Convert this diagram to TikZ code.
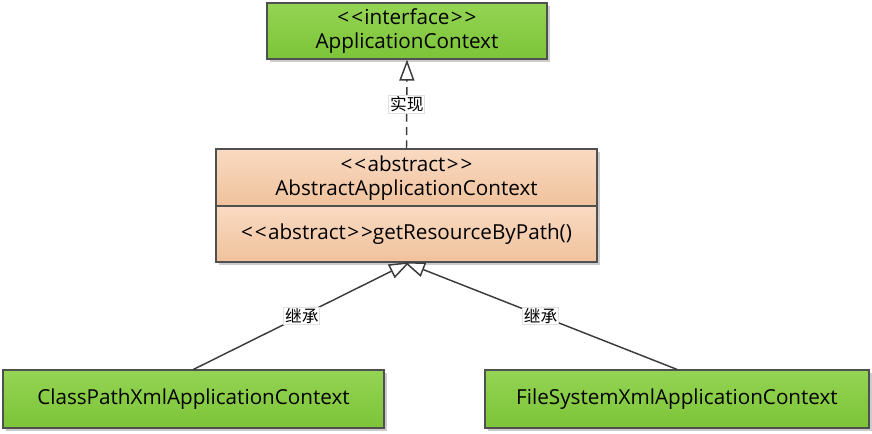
\documentclass[tikz,border=0pt]{standalone}
\usepackage{fontspec}
\setmainfont{Open Sans}
\newfontfamily\cjk{Noto Sans CJK SC}
\usetikzlibrary{arrows.meta,shadows}
\definecolor{gtop}{RGB}{148,212,84}
\definecolor{gbot}{RGB}{124,196,56}
\definecolor{otop}{RGB}{249,218,194}
\definecolor{obot}{RGB}{240,194,156}
\definecolor{edgec}{RGB}{80,80,80}
\definecolor{linec}{RGB}{60,60,60}
\newcommand{\ltlt}{<\kern1.5pt<\kern1pt}
\newcommand{\gtgt}{\kern1pt>\kern1.5pt>}
\tikzset{
  boxbase/.style={draw=edgec, line width=0.9pt, inner sep=0pt,
    general shadow={fill=black!20, shadow xshift=2pt, shadow yshift=-2pt}},
  greenbox/.style={boxbase, top color=gtop, bottom color=gbot},
  orangebox/.style={boxbase, top color=otop, bottom color=obot},
  compbox/.style={draw=edgec, line width=0.9pt, inner sep=0pt, top color=otop, bottom color=obot},
  txt/.style={font=\fontsize{15.5}{18}\selectfont, inner sep=0pt, align=center, text=black},
  lbl/.style={font=\cjk\fontsize{12.5}{14}\selectfont, fill=white, draw=black!12, line width=0.4pt, inner sep=1pt},
  conn/.style={draw=linec, line width=1.1pt},
  opentri/.style={-{Triangle[open, length=15.75pt, width=11.25pt, fill=white, line width=1.1pt]}}
}
\begin{document}
\begin{tikzpicture}[x=0.75pt,y=-0.75pt]
\useasboundingbox (0,0) rectangle (872,433);
% boxes
\node[greenbox, minimum width=210pt, minimum height=42pt] (ifc) at (407,31) {};
\node[txt] (ifct) at (407,31) {\ltlt interface\gtgt\\ApplicationContext};
\node[orangebox, minimum width=285.75pt, minimum height=84.75pt] (abs) at (406.5,205.5) {};
\node[compbox, minimum width=285.75pt, minimum height=42.75pt] (absh) at (406.5,177.5) {};
\node[compbox, minimum width=285.75pt, minimum height=42pt] (absb) at (406.5,234) {};
\node[txt] (abst) at (406.5,178) {\ltlt abstract\gtgt\\AbstractApplicationContext};
\node[txt] (absm) at (406.5,234) {\ltlt abstract\gtgt getResourceByPath()};
\node[greenbox, minimum width=285.75pt, minimum height=43.5pt] (cls) at (193.5,399) {};
\node[txt] (clst) at (193.5,399) {ClassPathXmlApplicationContext};
\node[greenbox, minimum width=288pt, minimum height=43.5pt] (fs) at (677,399) {};
\node[txt] (fst) at (677,399) {FileSystemXmlApplicationContext};
% connectors
\coordinate (t1) at (410,262);
\coordinate (t2) at (404,262);
\draw[conn, opentri, dash pattern=on 6pt off 4pt] (abs.north) -- node[lbl, solid] (l0) {实现} (ifc.south);
\draw[conn, opentri] (cls.north) -- node[lbl] (l1) {继承} (t1);
\draw[conn, opentri] (fs.north) -- node[lbl] (l2) {继承} (t2);
\end{tikzpicture}
\end{document}
